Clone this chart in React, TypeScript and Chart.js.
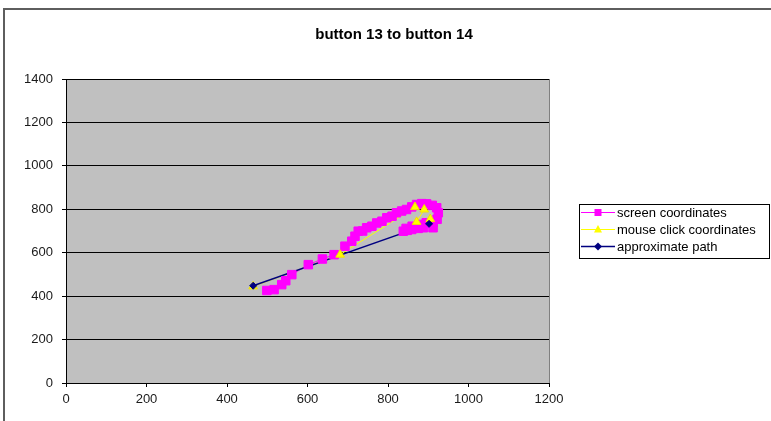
import React, { useEffect, useRef } from "react";
import { Chart, registerables } from "chart.js";

Chart.register(...registerables);

const chartTitle = "button 13 to button 14";
const seriesNames = ["screen coordinates", "mouse click coordinates", "approximate path"];

// screen coordinates sampled along the pointer trail
const screenX = [499, 517, 536, 546, 561, 602, 637, 666, 693, 710, 718, 726, 737, 747, 760, 772, 785, 797, 810, 821, 834, 846, 859, 871, 884, 896, 910, 921, 925, 922, 912, 895, 878, 860, 845, 838, 848, 859, 875, 888, 912];
const screenY = [426, 430, 453, 471, 499, 545, 571, 591, 630, 653, 676, 699, 700, 715, 722, 737, 745, 761, 768, 784, 792, 799, 811, 822, 826, 825, 818, 807, 784, 754, 740, 738, 730, 722, 712, 699, 703, 707, 712, 715, 715];

// mouse click coordinates
const clickX = [465, 681, 867, 890, 871, 905];
const clickY = [445, 591, 810, 799, 742, 755];

// approximate straight path from button 13 to button 14
const pathX = [465, 902];
const pathY = [448, 733];

const xTickValues = [0, 200, 400, 600, 800, 1000, 1200];
const yTickValues = [0, 200, 400, 600, 800, 1000, 1200, 1400];

const PINK = "#FF00FF";
const YELLOW = "#FFFF00";
const NAVY = "#000080";
const FONT = '"Liberation Sans", Arial, Helvetica, sans-serif';

const toPoints = (xs: number[], ys: number[]) => xs.map((x, i) => ({ x, y: ys[i] }));

const seriesColors = [PINK, YELLOW, NAVY];
const seriesStyles = ["rect", "triangle", "rectRot"];

function drawMarker(ctx: CanvasRenderingContext2D, style: string, x: number, y: number, color: string) {
  ctx.fillStyle = color;
  ctx.beginPath();
  if (style === "rect") {
    ctx.rect(x - 3.5, y - 3.5, 7, 7);
  } else if (style === "triangle") {
    ctx.moveTo(x, y - 4.5);
    ctx.lineTo(x + 4, y + 3);
    ctx.lineTo(x - 4, y + 3);
    ctx.closePath();
  } else {
    ctx.moveTo(x - 4, y);
    ctx.lineTo(x, y - 4);
    ctx.lineTo(x + 4, y);
    ctx.lineTo(x, y + 4);
    ctx.closePath();
  }
  ctx.fill();
}

const framePlugin = {
  id: "frameAndLegend",
  beforeDraw(chart: any) {
    const { ctx, chartArea } = chart;
    ctx.save();
    ctx.fillStyle = "#FFFFFF";
    ctx.fillRect(0, 0, chart.width, chart.height);
    ctx.fillStyle = "#C0C0C0";
    ctx.fillRect(chartArea.left, chartArea.top, chartArea.right - chartArea.left, chartArea.bottom - chartArea.top);
    ctx.restore();
  },
  afterDraw(chart: any) {
    const { ctx, chartArea } = chart;
    ctx.save();
    // plot area right edge
    ctx.strokeStyle = "#808080";
    ctx.lineWidth = 1;
    ctx.beginPath();
    ctx.moveTo(Math.round(chartArea.right) + 0.5, chartArea.top);
    ctx.lineTo(Math.round(chartArea.right) + 0.5, chartArea.bottom);
    ctx.stroke();

    // outer chart frame
    ctx.strokeStyle = "#5E5E5E";
    ctx.lineWidth = 2;
    ctx.beginPath();
    ctx.moveTo(4, chart.height + 5);
    ctx.lineTo(4, 9);
    ctx.lineTo(chart.width + 5, 9);
    ctx.stroke();

    // title
    ctx.fillStyle = "#000000";
    ctx.font = `bold 15px ${FONT}`;
    ctx.textAlign = "center";
    ctx.textBaseline = "middle";
    ctx.fillText(chartTitle, 394, 35);

    // legend
    ctx.strokeStyle = "#000000";
    ctx.lineWidth = 1;
    ctx.strokeRect(579.5, 204.5, 190, 54);
    ctx.font = `13px ${FONT}`;
    ctx.textAlign = "left";
    seriesNames.forEach((name, i) => {
      const y = 212.5 + i * 17;
      ctx.strokeStyle = seriesColors[i];
      ctx.lineWidth = i === 2 ? 1.5 : 1;
      ctx.beginPath();
      ctx.moveTo(581, y);
      ctx.lineTo(615, y);
      ctx.stroke();
      drawMarker(ctx, seriesStyles[i], 598, y, seriesColors[i]);
      ctx.fillStyle = "#000000";
      ctx.fillText(name, 617, y + 0.5);
    });
    ctx.restore();
  },
};

export default function App() {
  const ref = useRef<HTMLCanvasElement>(null);

  useEffect(() => {
    document.body.style.margin = "0";
    const canvas = ref.current;
    if (!canvas) return;

    const screenPts = toPoints(screenX, screenY);
    const clickPts = toPoints(clickX, clickY);
    const pathPts = toPoints(pathX, pathY);

    const chart = new Chart(canvas, {
      type: "scatter",
      data: {
        datasets: [
          // connecting lines sit underneath every marker
          { label: seriesNames[0], data: screenPts, showLine: true, borderColor: PINK, borderWidth: 1, pointRadius: 0, order: 6 },
          { label: seriesNames[1], data: clickPts, showLine: true, borderColor: YELLOW, borderWidth: 1, pointRadius: 0, order: 5 },
          { label: seriesNames[2], data: pathPts, showLine: true, borderColor: NAVY, borderWidth: 1.5, pointRadius: 0, order: 4 },
          // markers
          { label: seriesNames[0], data: screenPts, showLine: false, pointStyle: "rect", pointRadius: 6, borderWidth: 1, backgroundColor: PINK, borderColor: PINK, order: 3 },
          { label: seriesNames[1], data: clickPts, showLine: false, pointStyle: "triangle", pointRadius: 5, borderWidth: 1, backgroundColor: YELLOW, borderColor: "#F2E200", order: 2 },
          { label: seriesNames[2], data: pathPts, showLine: false, pointStyle: "rectRot", pointRadius: 3.5, borderWidth: 1, backgroundColor: NAVY, borderColor: NAVY, order: 1 },
        ],
      },
      options: {
        responsive: false,
        animation: false,
        devicePixelRatio: 1,
        layout: { padding: { top: 79, left: 0, right: 222, bottom: 0 } },
        plugins: {
          legend: { display: false },
          title: { display: false },
          tooltip: { enabled: false },
        },
        scales: {
          x: {
            type: "linear",
            min: xTickValues[0],
            max: xTickValues[xTickValues.length - 1],
            afterBuildTicks: (s: any) => {
              s.ticks = xTickValues.map((v) => ({ value: v }));
            },
            afterFit: (s: any) => {
              s.height = 38;
            },
            ticks: { color: "#1A1A1A", font: { family: FONT, size: 13 }, padding: 5, maxRotation: 0, callback: (v: any) => String(v) },
            grid: { drawOnChartArea: false, drawTicks: true, tickLength: 4, color: "#000000", tickColor: "#000000" },
            border: { display: true, color: "#000000", width: 1 },
          },
          y: {
            type: "linear",
            min: yTickValues[0],
            max: yTickValues[yTickValues.length - 1],
            afterBuildTicks: (s: any) => {
              s.ticks = yTickValues.map((v) => ({ value: v }));
            },
            afterFit: (s: any) => {
              s.width = 66;
            },
            ticks: { color: "#1A1A1A", font: { family: FONT, size: 13 }, padding: 9, callback: (v: any) => String(v) },
            grid: { drawTicks: true, tickLength: 4, color: "#000000", tickColor: "#000000", lineWidth: 1 },
            border: { display: true, color: "#000000", width: 1 },
          },
        },
      },
      plugins: [framePlugin],
    } as any);

    return () => chart.destroy();
  }, []);

  return (
    <div style={{ position: "absolute", left: 0, top: 0, width: 771, height: 421 }}>
      <canvas ref={ref} width={771} height={421} style={{ display: "block", width: 771, height: 421 }} />
    </div>
  );
}
